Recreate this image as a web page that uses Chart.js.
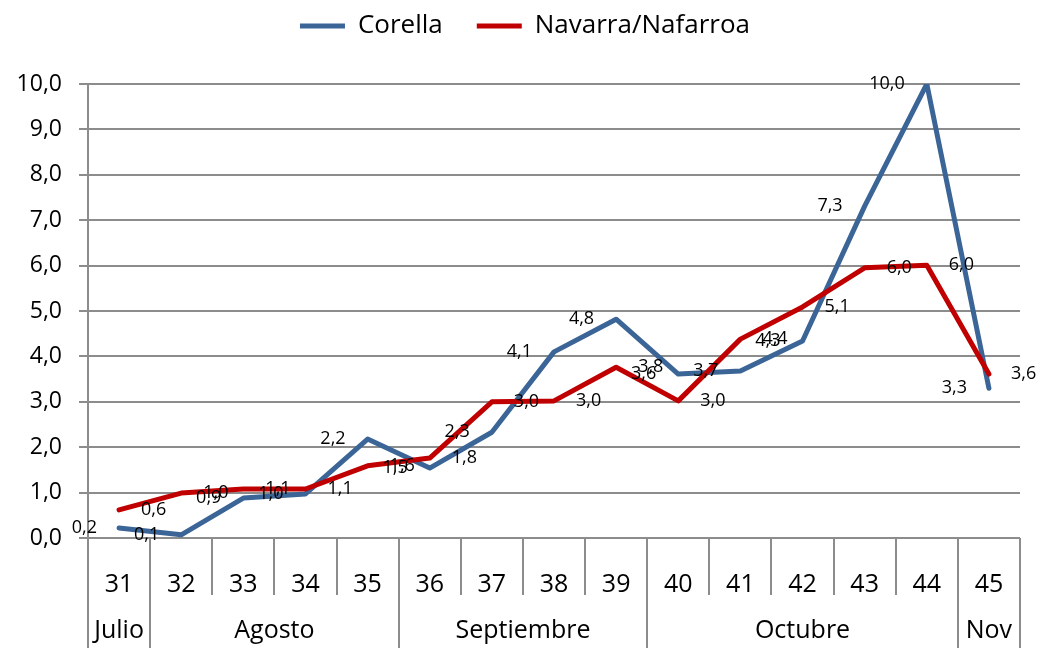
<!DOCTYPE html>
<html>
<head>
<meta charset="utf-8">
<script src="https://cdn.jsdelivr.net/npm/chart.js@4/dist/chart.umd.min.js"></script>
<style>
  html, body { margin: 0; padding: 0; background: #fff; }
  #wrap { width: 1041px; height: 648px; position: relative; }
</style>
</head>
<body>
<div id="wrap"><canvas id="chart"></canvas></div>
<script>
/* ---------- data ---------- */
const weeks = ['31', '32', '33', '34', '35', '36', '37', '38', '39', '40', '41', '42', '43', '44', '45'];
const months = ['Julio', 'Agosto', 'Septiembre', 'Octubre', 'Nov'];
const monthSpans = [1, 4, 4, 5, 1];

const corella = [0.22, 0.07, 0.88, 0.97, 2.18, 1.54, 2.33, 4.10, 4.82, 3.61, 3.68, 4.34, 7.31, 10.0, 3.30];
const navarra = [0.62, 0.99, 1.08, 1.08, 1.59, 1.76, 3.00, 3.02, 3.76, 3.02, 4.38, 5.09, 5.95, 6.01, 3.61];

const yTicks = [0, 1, 2, 3, 4, 5, 6, 7, 8, 9, 10];

/* ---------- styles ---------- */
const FONT = "'Open Sans', 'Noto Sans', sans-serif";
const BLUE = '#3b6597';
const RED = '#c00000';
const GRID = '#8c8c8c';

function fmt(v) { return v.toFixed(1).replace('.', ','); }

// push the plot area down below the legend, nudge legend a bit right
const legendSpacer = {
  id: 'legendSpacer',
  beforeUpdate(chart) {
    const lg = chart.legend;
    if (lg && !lg._spaced) {
      const fit = lg.fit.bind(lg);
      lg.fit = function() { fit(); this.height = 105; };
      lg._spaced = true;
    }
  },
  afterUpdate(chart) {
    const lg = chart.legend;
    if (lg) { lg.left += 15; lg.right += 15; }
  }
};

// value labels beside each point (Corella left, Navarra right)
const pointLabels = {
  id: 'pointLabels',
  afterDatasetsDraw(chart) {
    const ctx = chart.ctx;
    ctx.save();
    ctx.font = '18px ' + FONT;
    ctx.fillStyle = '#000';
    ctx.textBaseline = 'middle';
    chart.data.datasets.forEach((ds, i) => {
      const meta = chart.getDatasetMeta(i);
      ctx.textAlign = i === 0 ? 'right' : 'left';
      meta.data.forEach((pt, j) => {
        const dx = i === 0 ? -22 : 22;
        ctx.fillText(fmt(ds.data[j]), pt.x + dx, pt.y);
      });
    });
    ctx.restore();
  }
};

// two-level category axis: week boxes and month row
const monthAxis = {
  id: 'monthAxis',
  afterDraw(chart) {
    const x = chart.scales.x;
    const area = chart.chartArea;
    const ctx = chart.ctx;
    const bottom = chart.height;

    const edges = [0];
    monthSpans.forEach(s => edges.push(edges[edges.length - 1] + s));

    ctx.save();
    ctx.strokeStyle = GRID;
    ctx.lineWidth = 2;
    for (let i = 0; i <= weeks.length; i++) {
      const bx = Math.round(x.getPixelForValue(i - 0.5));
      const y2 = edges.includes(i) ? bottom : area.bottom + 57;
      ctx.beginPath();
      ctx.moveTo(bx, area.bottom);
      ctx.lineTo(bx, y2);
      ctx.stroke();
    }

    ctx.font = '25px ' + FONT;
    ctx.fillStyle = '#000';
    ctx.textAlign = 'center';
    ctx.textBaseline = 'middle';
    months.forEach((m, k) => {
      const a = x.getPixelForValue(edges[k] - 0.5);
      const b = x.getPixelForValue(edges[k + 1] - 0.5);
      ctx.fillText(m, (a + b) / 2, 631);
    });
    ctx.restore();
  }
};

new Chart(document.getElementById('chart'), {
  type: 'line',
  data: {
    labels: weeks,
    datasets: [
      {
        label: 'Corella',
        data: corella,
        borderColor: BLUE,
        backgroundColor: BLUE,
        borderWidth: 5,
        pointRadius: 0,
        tension: 0,
        borderJoinStyle: 'round',
        borderCapStyle: 'round',
        order: 1
      },
      {
        label: 'Navarra/Nafarroa',
        data: navarra,
        borderColor: RED,
        backgroundColor: RED,
        borderWidth: 5,
        pointRadius: 0,
        tension: 0,
        borderJoinStyle: 'round',
        borderCapStyle: 'round',
        order: 0
      }
    ]
  },
  options: {
    responsive: true,
    maintainAspectRatio: false,
    animation: false,
    devicePixelRatio: 1,
    layout: { padding: { top: -21, right: 21, bottom: 0, left: 0 } },
    plugins: {
      tooltip: { enabled: false },
      legend: {
        position: 'top',
        labels: {
          font: { family: FONT, size: 26 },
          color: '#000',
          boxWidth: 45,
          boxHeight: 5,
          padding: 34,
          generateLabels(chart) {
            return chart.data.datasets.map((ds, i) => ({
              text: ds.label,
              fillStyle: ds.borderColor,
              strokeStyle: ds.borderColor,
              lineWidth: 0,
              fontColor: '#000',
              datasetIndex: i
            }));
          }
        }
      }
    },
    scales: {
      x: {
        type: 'category',
        offset: true,
        grid: { display: false },
        border: { display: false },
        ticks: {
          font: { family: FONT, size: 25 },
          color: '#000',
          padding: 24,
          maxRotation: 0,
          autoSkip: false
        },
        afterFit(scale) { scale.height = 110; }
      },
      y: {
        min: 0,
        max: 10,
        afterBuildTicks(scale) { scale.ticks = yTicks.map(v => ({ value: v })); },
        ticks: {
          font: { family: FONT, size: 23 },
          color: '#000',
          padding: 17,
          callback: v => fmt(v)
        },
        grid: { color: GRID, lineWidth: 2, tickLength: 9 },
        border: { display: true, color: GRID, width: 2 },
        afterFit(scale) { scale.width = 88; }
      }
    }
  },
  plugins: [legendSpacer, pointLabels, monthAxis]
});
</script>
</body>
</html>
